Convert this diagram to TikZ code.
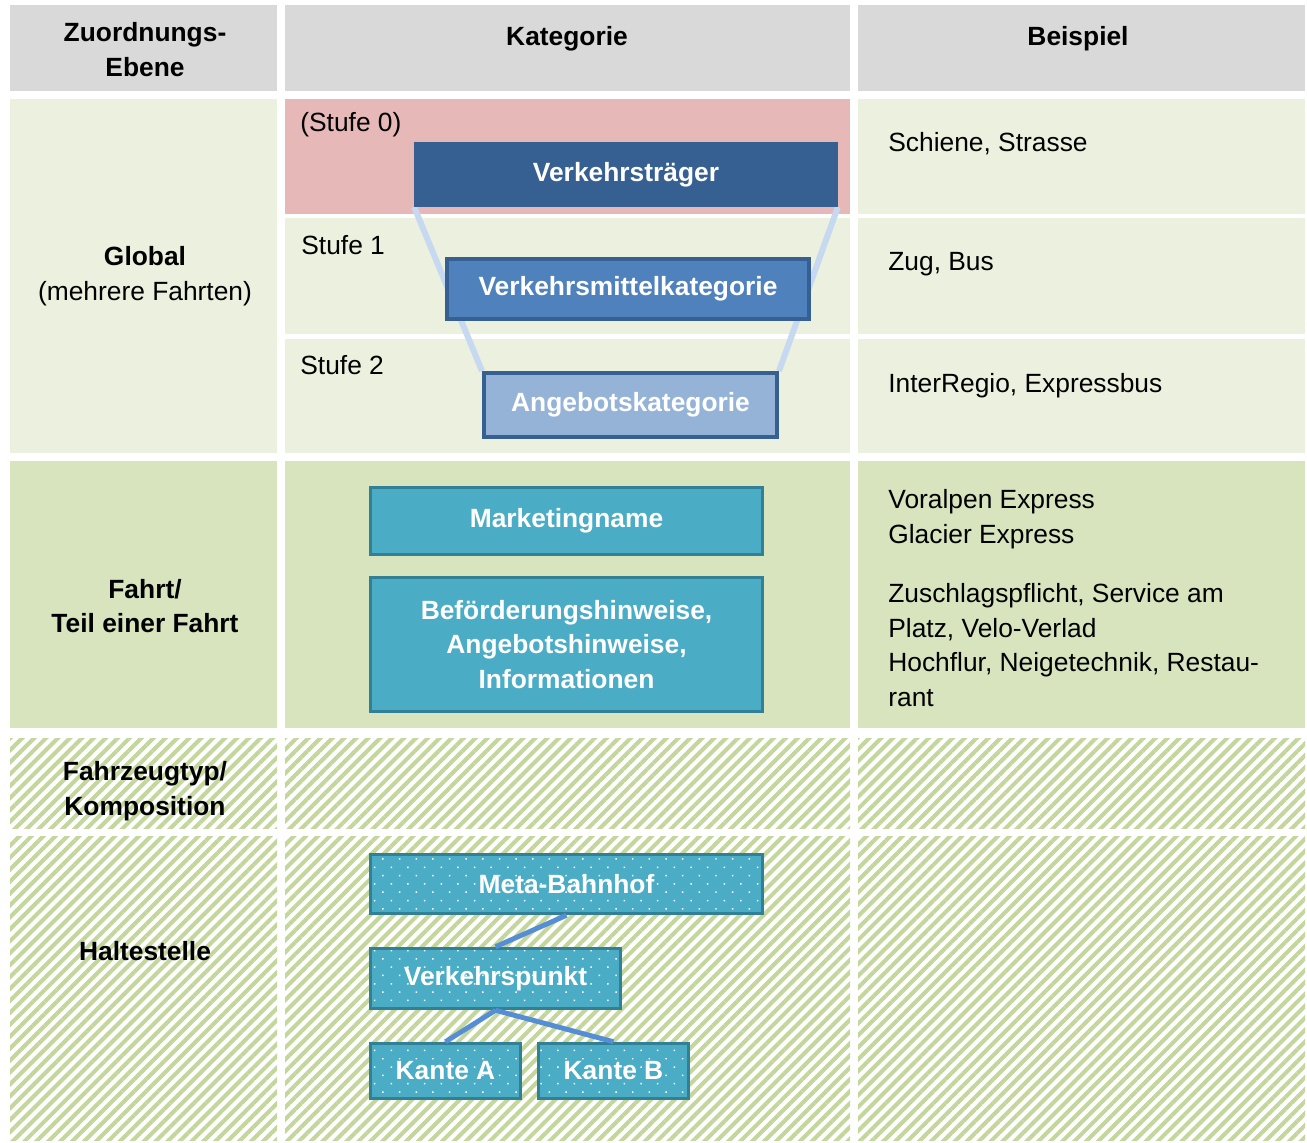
\documentclass[tikz,border=0pt]{standalone}
\usepackage{fontspec}
\setmainfont{Liberation Sans}
\usetikzlibrary{positioning, patterns.meta}

\definecolor{headgray}{RGB}{217,217,217}
\definecolor{globalgreen}{RGB}{235,241,222}
\definecolor{fahrtgreen}{RGB}{215,228,189}
\definecolor{hatchgreen}{RGB}{195,214,155}
\definecolor{stufered}{RGB}{230,184,183}
\definecolor{blueA}{RGB}{55,96,146}
\definecolor{blueB}{RGB}{79,129,189}
\definecolor{blueC}{RGB}{149,179,215}
\definecolor{funnelblue}{RGB}{198,217,241}
\definecolor{linkblue}{RGB}{85,142,213}
\definecolor{tealfill}{RGB}{75,172,198}
\definecolor{tealline}{RGB}{49,128,150}

\newcommand{\tabfont}{\fontsize{15}{19.8}\selectfont}

\pgfdeclarelayer{cells}
\pgfdeclarelayer{funnel}
\pgfsetlayers{cells,funnel,main}

\begin{document}
\begin{tikzpicture}[x=0.2mm, y=-0.2mm,
  hatched/.style={pattern={Lines[angle=45, distance=4.8pt, line width=2.3pt]}, pattern color=hatchgreen},
  headtext/.style={font=\tabfont\bfseries, align=center, inner sep=0pt},
  celltext/.style={font=\tabfont, align=left, anchor=west, inner sep=0pt, yshift=-0.5mm},
  levelbox/.style={rectangle, draw=blueA, line width=2.3pt, text=white, font=\tabfont\bfseries, inner sep=0pt},
  tealbox/.style={rectangle, draw=tealline, fill=tealfill, line width=2pt, text=white,
    font=\tabfont\bfseries, align=center, inner sep=0pt, minimum width=78.4mm},
  stopbox/.style={rectangle, draw=tealline, line width=2pt, preaction={fill=tealfill},
    pattern={Dots[angle=45, distance=6.7pt, radius=0.6pt]}, pattern color=white,
    text=white, font=\tabfont\bfseries, inner sep=0pt},
  funnelline/.style={draw=funnelblue, line width=3.4pt},
  linkline/.style={draw=linkblue, line width=2.8pt}]

\useasboundingbox (0,0) rectangle (1307,1142);

% Cells
\begin{pgfonlayer}{cells}
\fill[white] (0,0) rectangle (1307,1142);
\fill[headgray] (10,5) rectangle (277,91);
\fill[headgray] (285,5) rectangle (850,91);
\fill[headgray] (858,5) rectangle (1305,91);
\fill[globalgreen] (10,99) rectangle (277,453);
\fill[stufered] (285,99) rectangle (850,214);
\fill[globalgreen] (285,218) rectangle (850,334);
\fill[globalgreen] (285,339) rectangle (850,453);
\fill[globalgreen] (858,99) rectangle (1305,214);
\fill[globalgreen] (858,218) rectangle (1305,334);
\fill[globalgreen] (858,339) rectangle (1305,453);
\fill[fahrtgreen] (10,461) rectangle (277,728);
\fill[fahrtgreen] (285,461) rectangle (850,728);
\fill[fahrtgreen] (858,461) rectangle (1305,728);
\path[hatched] (10,738) rectangle (277,828);
\path[hatched] (285,738) rectangle (850,828);
\path[hatched] (858,738) rectangle (1305,828);
\path[hatched] (10,836) rectangle (277,1140);
\path[hatched] (285,836) rectangle (850,1140);
\path[hatched] (858,836) rectangle (1305,1140);
\end{pgfonlayer}

% Header
\node[headtext] (hebene) at (145,49.5) {Zuordnungs-\\Ebene};
\node[headtext] (hkat) at (567,38.5) {Kategorie};
\node[headtext] (hbsp) at (1078,38.5) {Beispiel};

% Zuordnungsebenen
\node[headtext] (global) at (145,276.5) {Global\\\mdseries(mehrere Fahrten)};
\node[headtext] (fahrt) at (145,606) {Fahrt/\\Teil einer Fahrt};
\node[headtext] (fahrzeug) at (145,791.5) {Fahrzeugtyp/\\Komposition};
\node[headtext] (halt) at (145,951) {Haltestelle};

% Stufen
\node[celltext] (stufe0) at (300,122) {(Stufe 0)};
\node[celltext] (stufe1) at (301,243) {Stufe 1};
\node[celltext] (stufe2) at (300,363) {Stufe 2};

\node[levelbox, fill=blueA, line width=1pt, minimum width=84.4mm, minimum height=12.6mm] (vt) at (626,174.5) {Verkehrsträger};
\node[levelbox, fill=blueB, minimum width=72.4mm, minimum height=12mm] (vm) at (628,289) {Verkehrsmittelkategorie};
\node[levelbox, fill=blueC, minimum width=58.6mm, minimum height=12.8mm] (ak) at (630.5,405) {Angebotskategorie};

\begin{pgfonlayer}{funnel}
\draw[funnelline] (vt.south west) -- (ak.north west);
\draw[funnelline] (vt.south east) -- (ak.north east);
\end{pgfonlayer}

% Fahrt
\node[tealbox, minimum height=13.4mm] (mk) at (566.5,521) {Marketingname};
\node[tealbox, minimum height=26.8mm] (bh) at (566.5,644.5) {Beförderungshinweise,\\Angebotshinweise,\\Informationen};

% Haltestelle
\node[stopbox, minimum width=78.4mm, minimum height=11.8mm] (mb) at (566.5,884) {Meta-Bahnhof};
\node[stopbox, minimum width=50mm, minimum height=12mm] (vp) at (495.5,978.5) {Verkehrspunkt};
\node[stopbox, minimum width=30mm, minimum height=11mm] (ka) at (445.5,1071) {Kante A};
\node[stopbox, minimum width=30mm, minimum height=11mm] (kb) at (613.5,1071) {Kante B};

\draw[linkline] (mb.south) -- (vp.north);
\draw[linkline] (vp.south) -- (ka.north);
\draw[linkline] (vp.south) -- (kb.north);

% Beispiele
\node[celltext] (b0) at (888,141) {Schiene, Strasse};
\node[celltext] (b1) at (888,262) {Zug, Bus};
\node[celltext] (b2) at (888,383) {InterRegio, Expressbus};
\node[celltext] (b3) at (888,516.5) {Voralpen Express\\Glacier Express};
\node[celltext] (b4) at (888,642.5) {Zuschlagspflicht, Service am\\Platz, Velo-Verlad\\Hochflur, Neigetechnik, Restau-\\rant};

\end{tikzpicture}
\end{document}
